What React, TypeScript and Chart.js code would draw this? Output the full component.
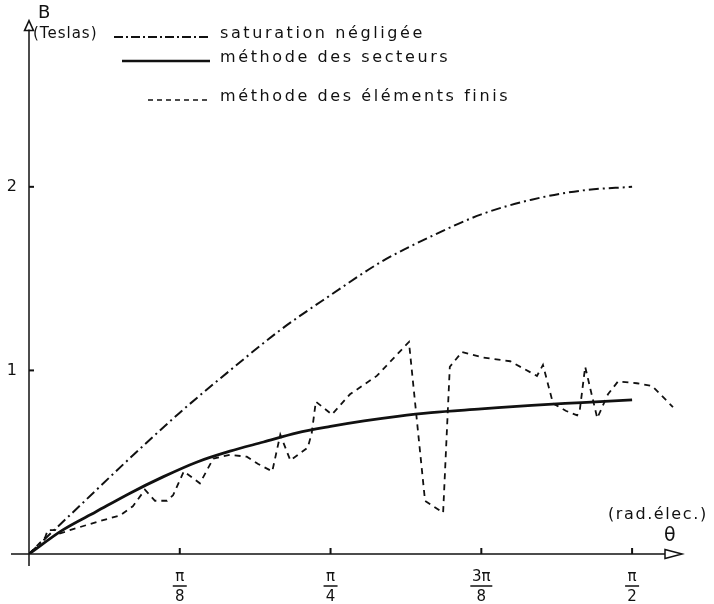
import React, { useEffect, useRef } from "react";
import { Chart, registerables } from "chart.js";

Chart.register(...registerables);

// θ in electrical degrees (π/8 = 22.5°), B in Teslas
const thetaSat = [0, 7.5, 15, 22.5, 30, 37.5, 45, 52.5, 60, 67.5, 75, 82.5, 90];
const bSat = [0, 0.26, 0.52, 0.77, 1.0, 1.22, 1.41, 1.59, 1.73, 1.85, 1.93, 1.98, 2.0];

const thetaSect = [0, 5, 10, 15, 20, 25, 30, 35, 40, 45, 50, 55, 60, 67.5, 75, 82.5, 90];
const bSect = [0, 0.13, 0.23, 0.33, 0.42, 0.5, 0.56, 0.61, 0.66, 0.695, 0.725, 0.75, 0.77, 0.79, 0.81, 0.825, 0.84];

const thetaFE = [
  0, 2.4, 2.8, 4.0, 4.5, 6.1, 10.6, 13.6, 15.5, 17.3, 18.8, 20.6, 21.5, 23.1, 25.5, 27.5,
  30, 32.5, 34.2, 36.3, 37.5, 39, 41.6, 42.2, 42.8, 45.2, 47.9, 51.9, 56.7, 59.1, 61.8,
  62.8, 64.6, 67.8, 71.8, 75.8, 76.7, 78.2, 80.1, 81.8, 82.2, 83, 84.8, 86.4, 87.9, 90.7, 93, 96.1,
];
const bFE = [
  0, 0.09, 0.13, 0.13, 0.11, 0.13, 0.18, 0.21, 0.26, 0.35, 0.29, 0.29, 0.32, 0.45, 0.385, 0.52,
  0.54, 0.53, 0.49, 0.45, 0.65, 0.51, 0.58, 0.66, 0.83, 0.76, 0.87, 0.97, 1.155, 0.29, 0.225,
  1.02, 1.1, 1.07, 1.05, 0.97, 1.03, 0.82, 0.78, 0.755, 0.785, 1.02, 0.74, 0.87, 0.94, 0.93, 0.915, 0.8,
];

const xTicks = [22.5, 45, 67.5, 90];
const xTickNum = ["π", "π", "3π", "π"];
const xTickDen = ["8", "4", "8", "2"];
const yTicks = [1, 2];
const yTickLabels = ["1", "2"];
const legendLabels = ["saturation négligée", "méthode des secteurs", "méthode des éléments finis"];

const FONT = "'DejaVu Sans', sans-serif";
const INK = "#111";

const pts = (xs: number[], ys: number[]) => xs.map((x, i) => ({ x, y: ys[i] }));

const decorPlugin = {
  id: "decor",
  afterDraw(chart: any) {
    const ctx: CanvasRenderingContext2D = chart.ctx;
    const xs = chart.scales.x;
    const ys = chart.scales.y;
    const x0 = xs.getPixelForValue(0);
    const y0 = ys.getPixelForValue(0);
    const top = chart.chartArea.top;
    const right = chart.chartArea.right;
    ctx.save();
    ctx.strokeStyle = INK;
    ctx.fillStyle = INK;
    ctx.lineWidth = 1.5;
    ctx.setLineDash([]);
    // y axis
    ctx.beginPath();
    ctx.moveTo(x0, y0 + 12);
    ctx.lineTo(x0, top + 8);
    ctx.stroke();
    ctx.beginPath();
    ctx.moveTo(x0, top - 1);
    ctx.lineTo(x0 - 4.5, top + 9);
    ctx.lineTo(x0 + 4.5, top + 9);
    ctx.closePath();
    ctx.stroke();
    // x axis
    ctx.beginPath();
    ctx.moveTo(x0 - 18, y0);
    ctx.lineTo(right - 14, y0);
    ctx.stroke();
    ctx.beginPath();
    ctx.moveTo(right + 3, y0);
    ctx.lineTo(right - 14, y0 - 4.5);
    ctx.lineTo(right - 14, y0 + 4.5);
    ctx.closePath();
    ctx.stroke();
    // ticks
    ctx.lineWidth = 2;
    yTicks.forEach((v) => {
      const p = ys.getPixelForValue(v);
      ctx.beginPath();
      ctx.moveTo(x0, p);
      ctx.lineTo(x0 + 5, p);
      ctx.stroke();
    });
    xTicks.forEach((v, i) => {
      const p = xs.getPixelForValue(v);
      ctx.beginPath();
      ctx.moveTo(p, y0);
      ctx.lineTo(p, y0 - 6);
      ctx.stroke();
      // fraction bar
      const w = xTickNum[i].length > 1 ? 22 : 14;
      ctx.lineWidth = 1.5;
      ctx.beginPath();
      ctx.moveTo(p - w / 2, y0 + 32);
      ctx.lineTo(p + w / 2, y0 + 32);
      ctx.stroke();
      ctx.lineWidth = 2;
    });
    // texts
    (ctx as any).letterSpacing = "1px";
    ctx.textBaseline = "middle";
    ctx.textAlign = "left";
    ctx.font = `18px ${FONT}`;
    ctx.fillText("B", x0 + 9, 13);
    ctx.font = `15px ${FONT}`;
    ctx.fillText("(Teslas)", x0 + 4, 34);
    (ctx as any).letterSpacing = "1.6px";
    ctx.font = `16px ${FONT}`;
    ctx.fillText("(rad.élec.)", 608, 515);
    (ctx as any).letterSpacing = "0px";
    ctx.font = `19px ${FONT}`;
    ctx.fillText("θ", 664, 536);
    // legend
    const rows = [34, 58, 97];
    const dashes = [[9, 3, 2, 3], [], [5, 4]];
    const widths = [1.8, 2.5, 1.6];
    const starts = [114, 122, 148];
    (ctx as any).letterSpacing = "2.6px";
    ctx.font = `16px ${FONT}`;
    rows.forEach((y, i) => {
      ctx.setLineDash(dashes[i]);
      ctx.lineWidth = widths[i];
      ctx.beginPath();
      ctx.moveTo(starts[i], y + 3);
      ctx.lineTo(210, y + 3);
      ctx.stroke();
      ctx.setLineDash([]);
      ctx.fillText(legendLabels[i], 220, y);
    });
    ctx.restore();
  },
};

export default function App() {
  const ref = useRef<HTMLCanvasElement>(null);
  useEffect(() => {
    if (!ref.current) return;
    const chart = new Chart(ref.current, {
      type: "scatter",
      data: {
        datasets: [
          {
            label: legendLabels[0],
            data: pts(thetaSat, bSat),
            showLine: true,
            borderColor: INK,
            borderWidth: 2,
            borderDash: [10, 4, 2, 4],
            pointRadius: 0,
            tension: 0.4,
            cubicInterpolationMode: "monotone",
          },
          {
            label: legendLabels[1],
            data: pts(thetaSect, bSect),
            showLine: true,
            borderColor: INK,
            borderWidth: 2.8,
            pointRadius: 0,
            tension: 0.4,
            cubicInterpolationMode: "monotone",
          },
          {
            label: legendLabels[2],
            data: pts(thetaFE, bFE),
            showLine: true,
            borderColor: INK,
            borderWidth: 1.8,
            borderDash: [6, 5],
            pointRadius: 0,
            tension: 0,
          },
        ],
      } as any,
      options: {
        responsive: false,
        animation: false,
        devicePixelRatio: 1,
        layout: { padding: { top: 12, right: 35, left: 0, bottom: 0 } },
        plugins: { legend: { display: false }, tooltip: { enabled: false } },
        scales: {
          x: {
            type: "linear",
            min: 0,
            max: 97,
            afterBuildTicks: (s: any) => {
              s.ticks = xTicks.map((v) => ({ value: v }));
            },
            afterFit: (s: any) => {
              s.height = 50;
            },
            ticks: {
              callback: (_v: any, i: number) => [xTickNum[i], xTickDen[i]],
              font: { family: FONT, size: 15, lineHeight: 1.35 },
              color: INK,
              padding: 13,
              maxRotation: 0,
              autoSkip: false,
            },
            grid: { display: false, drawTicks: false },
            border: { display: false },
          },
          y: {
            type: "linear",
            min: 0,
            max: 2.9,
            afterBuildTicks: (s: any) => {
              s.ticks = yTicks.map((v) => ({ value: v }));
            },
            afterFit: (s: any) => {
              s.width = 29;
            },
            ticks: {
              callback: (_v: any, i: number) => yTickLabels[i],
              font: { family: FONT, size: 16 },
              color: INK,
              padding: 12,
            },
            grid: { display: false, drawTicks: false },
            border: { display: false },
          },
        },
      } as any,
      plugins: [decorPlugin],
    });
    return () => chart.destroy();
  }, []);
  return (
    <div style={{ position: "fixed", left: 0, top: 0, width: 714, height: 604, background: "#fff" }}>
      <canvas ref={ref} width={714} height={604} style={{ width: 714, height: 604, display: "block" }} />
    </div>
  );
}
